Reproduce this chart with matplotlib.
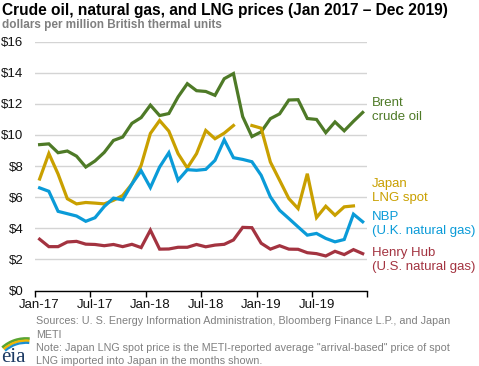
import numpy as np
import matplotlib
matplotlib.use("Agg")
import matplotlib.pyplot as plt
from matplotlib.patches import Arc

plt.rcParams['font.family'] = ['Liberation Sans', 'DejaVu Sans']

# ---------------- data ----------------
xtick_labels = ["Jan-17", "Jul-17", "Jan-18", "Jul-18", "Jan-19", "Jul-19"]
n_months = 36

brent = [9.38, 9.43, 8.86, 8.97, 8.64, 7.94, 8.33, 8.88, 9.65, 9.87, 10.75, 11.12,
         11.92, 11.25, 11.38, 12.45, 13.30, 12.85, 12.80, 12.55, 13.62, 13.95, 11.18, 9.90,
         10.20, 11.05, 11.36, 12.25, 12.27, 11.06, 11.00, 10.15, 10.84, 10.27, 10.88, 11.45]

japan_lng = [7.17, 8.81, 7.49, 5.90, 5.57, 5.66, 5.62, 5.57, 5.80, 6.11, 6.85, 8.05,
             10.10, 10.93, 10.25, 8.80, 7.88, 8.80, 10.29, 9.76, 10.12, 10.61, np.nan, 10.61,
             10.44, 8.26, 7.09, 5.91, 5.27, 7.51, 4.69, 5.42, 4.84, 5.38, 5.44, np.nan]

nbp = [6.60, 6.38, 5.09, 4.94, 4.79, 4.45, 4.68, 5.40, 5.94, 5.83, 6.85, 7.70,
       6.62, 7.94, 8.86, 7.09, 7.77, 7.73, 7.79, 8.37, 9.69, 8.54, 8.43, 8.28,
       7.41, 6.02, 5.16, 4.63, 4.09, 3.56, 3.67, 3.35, 3.13, 3.28, 4.91, 4.42]

henry_hub = [3.30, 2.82, 2.82, 3.12, 3.16, 2.98, 2.96, 2.88, 2.96, 2.82, 2.97, 2.76,
             3.88, 2.66, 2.67, 2.78, 2.78, 2.96, 2.81, 2.92, 2.97, 3.25, 4.06, 4.04,
             3.04, 2.66, 2.88, 2.66, 2.65, 2.43, 2.37, 2.22, 2.52, 2.31, 2.63, 2.37]

series_names = ["Brent\ncrude oil", "Japan\nLNG spot", "NBP\n(U.K. natural gas)",
                "Henry Hub\n(U.S. natural gas)"]
colors = ["#4E7A27", "#C9A000", "#0A9BD8", "#A33340"]

yticks = [0, 2, 4, 6, 8, 10, 12, 14, 16]

# ---------------- figure ----------------
W, H = 479, 366
fig = plt.figure(figsize=(W / 100, H / 100), dpi=100)


def fx(px):
    return px / W


def fy(py):
    return (H - py) / H


x_left, x_right = 35.0, 367.3
y_zero, y_top = 290.5, 41.7
ax = fig.add_axes([fx(x_left), fy(y_zero), (x_right - x_left) / W, (y_zero - y_top) / H])

x = np.arange(n_months)
for vals, c in zip([brent, japan_lng, nbp, henry_hub], colors):
    ax.plot(x, vals, color=c, lw=2.3, solid_joinstyle='miter', zorder=3)

ax.set_xlim(-0.5, n_months - 0.5)
ax.set_ylim(0, 16)

# gridlines
ax.set_yticks(yticks)
ax.set_yticklabels([f"${v}" for v in yticks])
ax.yaxis.grid(True, color="#d4d4d4", lw=1.0, zorder=0)
ax.tick_params(axis='y', length=0, pad=8.5, labelsize=9.5, labelcolor="#111111")

# x ticks at boundaries, labels at category centers
ax.set_xticks(np.arange(-0.5, n_months, 6))
ax.set_xticklabels([])
ax.tick_params(axis='x', which='major', length=4, width=1, color='black', direction='out')
ax.set_xticks(np.arange(0, n_months, 6), minor=True)
ax.set_xticklabels(xtick_labels, minor=True)
ax.tick_params(axis='x', which='minor', length=0, pad=6, labelsize=9.5, labelcolor="#111111")

for s in ['left', 'right', 'top']:
    ax.spines[s].set_visible(False)
ax.spines['bottom'].set_color('black')
ax.spines['bottom'].set_linewidth(1.0)
ax.spines['bottom'].set_zorder(4)

# ---------------- titles ----------------
fig.text(fx(2), fy(15), "Crude oil, natural gas, and LNG prices (Jan 2017 \u2013 Dec 2019)",
         fontsize=11.2, fontweight='bold', color='black', va='baseline', ha='left')
fig.text(fx(2), fy(28), "dollars per million British thermal units",
         fontsize=8.5, fontweight='bold', color='#7f7f7f', va='baseline', ha='left')

# ---------------- series labels ----------------
label_baselines = [(106, 120), (187.5, 200.5), (220, 234), (256, 270)]
for name, c, (b1, b2) in zip(series_names, colors, label_baselines):
    l1, l2 = name.split("\n")
    fig.text(fx(372), fy(b1), l1, color=c, fontsize=9.5, va='baseline', ha='left')
    fig.text(fx(372), fy(b2), l2, color=c, fontsize=9.5, va='baseline', ha='left')

# ---------------- footnotes ----------------
notes = ["Sources: U. S. Energy Information Administration, Bloomberg Finance L.P., and Japan",
         "METI",
         "Note: Japan LNG spot price is the METI-reported average \"arrival-based\" price of spot",
         "LNG imported into Japan in the months shown."]
for i, t in enumerate(notes):
    fig.text(fx(36.5), fy(324.5 + 13.2 * i), t, fontsize=7.75, color='#808080',
             va='baseline', ha='left')

# ---------------- eia logo ----------------
lax = fig.add_axes([0, fy(366), 32 / W, 30 / H])
lax.set_xlim(0, 32)
lax.set_ylim(0, 30)
lax.axis('off')
lax.text(1.5, 4, "eia", family='Liberation Serif', fontsize=15, color='#1c3a63',
         va='baseline', ha='left')
for (r, c, lw) in [(35.5, '#5aa532', 2.0), (33.3, '#f2b705', 1.8), (31.2, '#1c8fd0', 1.6)]:
    lax.add_patch(Arc((26, -8), 2 * r, 2 * r, theta1=84, theta2=132, color=c, lw=lw))

fig.savefig("out.png", dpi=100)
